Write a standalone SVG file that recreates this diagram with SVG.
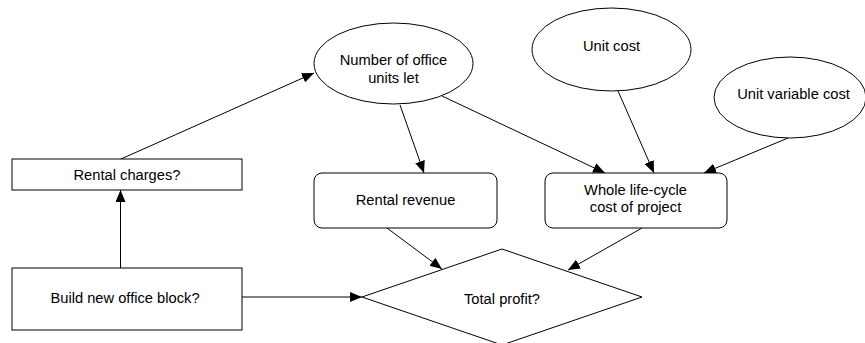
<svg xmlns="http://www.w3.org/2000/svg" width="865" height="343" viewBox="0 0 865 343">
  <style>
    .shape { fill: #ffffff; stroke: #000000; stroke-width: 1; }
    .label { font-family: "Liberation Sans", Arial, sans-serif; font-size: 14.7px; fill: #000000; text-anchor: middle; }
    .edge { fill: none; stroke: #000000; stroke-width: 1; marker-end: url(#arrow); }
  </style>
  <defs>
    <marker id="arrow" markerUnits="userSpaceOnUse" markerWidth="12" markerHeight="10" refX="12" refY="5" orient="auto">
      <path d="M0,0 L12,5 L0,10 z" fill="#000000"/>
    </marker>
  </defs>
  <rect width="865" height="343" fill="#ffffff"/>

  <g id="connectors">
    <line class="edge" x1="120.5" y1="268" x2="120.5" y2="190"/>
    <line class="edge" x1="121" y1="159" x2="314" y2="73"/>
    <line class="edge" x1="400" y1="105" x2="424" y2="173"/>
    <line class="edge" x1="442" y1="96" x2="605" y2="173"/>
    <line class="edge" x1="618" y1="91" x2="654" y2="173"/>
    <line class="edge" x1="788" y1="138" x2="704" y2="173"/>
    <line class="edge" x1="387" y1="228" x2="442" y2="269"/>
    <line class="edge" x1="642" y1="228" x2="568" y2="270"/>
    <line class="edge" x1="242" y1="297" x2="362" y2="297"/>
  </g>

  <g id="rental-charges">
    <rect class="shape" x="12" y="159" width="230" height="31"/>
    <text class="label" x="127" y="180">Rental charges?</text>
  </g>

  <g id="build-office-block">
    <rect class="shape" x="12" y="268" width="230" height="62"/>
    <text class="label" x="125" y="302.5">Build new office block?</text>
  </g>

  <g id="units-let">
    <ellipse class="shape" cx="393.5" cy="63.5" rx="79.5" ry="40.5"/>
    <text class="label" x="393.5" y="65">Number of office</text>
    <text class="label" x="393.5" y="82.5">units let</text>
  </g>

  <g id="unit-cost">
    <ellipse class="shape" cx="611.5" cy="49.5" rx="79.5" ry="41.5"/>
    <text class="label" x="611.5" y="50.5">Unit cost</text>
  </g>

  <g id="unit-variable-cost">
    <ellipse class="shape" cx="790" cy="97.5" rx="76" ry="40.5"/>
    <text class="label" x="793.5" y="98.5">Unit variable cost</text>
  </g>

  <g id="rental-revenue">
    <rect class="shape" x="314" y="173" width="183" height="55" rx="8" ry="8"/>
    <text class="label" x="405.5" y="205">Rental revenue</text>
  </g>

  <g id="life-cycle-cost">
    <rect class="shape" x="545" y="173" width="182" height="55" rx="8" ry="8"/>
    <text class="label" x="635.5" y="194.5">Whole life-cycle</text>
    <text class="label" x="635.5" y="212">cost of project</text>
  </g>

  <g id="total-profit">
    <polygon class="shape" points="362,297 502,249 642,297 502,345"/>
    <text class="label" x="502" y="304">Total profit?</text>
  </g>
</svg>
